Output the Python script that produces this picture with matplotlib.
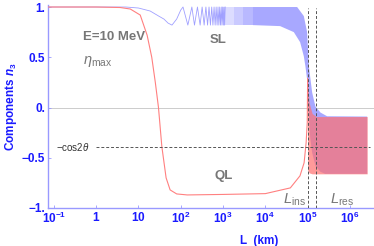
import matplotlib
matplotlib.use("Agg")
import matplotlib.pyplot as plt
import numpy as np

plt.rcParams['font.family'] = ['Liberation Sans', 'DejaVu Sans']
plt.rcParams['mathtext.fontset'] = 'custom'
plt.rcParams['mathtext.rm'] = 'Liberation Sans'
plt.rcParams['mathtext.it'] = 'Liberation Sans:italic'
plt.rcParams['mathtext.bf'] = 'Liberation Sans:bold'
plt.rcParams['mathtext.bfit'] = 'Liberation Sans:bold:italic'

# QL curve (red)
ql_L = [0.07, 1, 3.7, 6.4, 11, 16, 20.6, 25, 29.7, 35.7, 45, 56, 80, 142,
        1000, 10000, 39000, 66000, 82600, 92200, 98000, 100000]
ql_n3 = [1, 1, 0.995, 0.98, 0.92, 0.72, 0.5, 0.25, 0.0, -0.39, -0.7, -0.82,
         -0.86, -0.87, -0.865, -0.857, -0.8, -0.68, -0.55, -0.35, -0.15, 0.29]
# QL band after L_ins
qlb_L = [1.0e5, 1.08e5, 1.28e5, 1.6e5, 2.6e5, 2.56e6]
qlb_top = [0.29, 0.05, -0.06, -0.09, -0.09, -0.09]
qlb_bot = [-0.62, -0.65, -0.66, -0.66, -0.66, -0.66]

# SL curve (blue): resolved oscillations
sl_L = [0.07, 1, 5, 10, 18.9, 30, 40, 50, 62, 80, 100, 113,
        147, 183, 211, 248, 287, 320, 357, 393, 430, 466, 503, 540,
        576, 613, 650, 686, 723, 760, 796, 833, 869, 906, 942, 979,
        1015, 1052, 1088, 1125]
sl_n3 = [1, 1, 1, 0.99, 0.96, 0.91, 0.88, 0.84, 0.82, 0.88, 0.97, 1.0,
         0.82, 1.0, 0.82, 1.0, 0.82, 1.0, 0.82, 1.0, 0.82, 1.0, 0.82, 1.0,
         0.82, 1.0, 0.82, 1.0, 0.82, 1.0, 0.82, 1.0, 0.82, 1.0, 0.82, 1.0,
         0.82, 1.0, 0.82, 1.0]
# SL band envelope (fast oscillations)
fade_L = [1000, 1800, 3000, 5100]
fade_alpha = [0.4, 0.6, 0.8]
slu_L = [5100, 56500, 81300, 97300, 1.07e5, 1.28e5, 1.53e5, 2.01e5, 2.89e5, 2.56e6]
slu_n3 = [1.0, 1.0, 0.91, 0.75, 0.41, 0.15, 0.01, -0.05, -0.087, -0.09]
sll_L = [5100, 22400, 47200, 66500, 81300, 88700, 97300, 1.08e5, 1.15e5,
         1.28e5, 1.53e5, 2.01e5, 2.6e5, 2.56e6]
sll_n3 = [0.82, 0.81, 0.75, 0.65, 0.51, 0.41, 0.28, -0.1, -0.3, -0.45,
          -0.58, -0.64, -0.66, -0.66]

cos2theta = 0.393
L_ins = 1.0e5
L_res = 1.6e5

blue = '#1a1aff'
band_blue = '#a8a8ff'
red = '#ff8080'
gray = '#777777'

fig = plt.figure(figsize=(3.74, 2.46), dpi=100)
ax = fig.add_axes([48 / 374, 38 / 246, 326 / 374, 203 / 246])
ax.set_xscale('log')
ax.set_xlim(10 ** -1.14, 10 ** 6.57)
ax.set_ylim(-1, 1.02)

ax.axhline(0, color='#cccccc', lw=0.7, zorder=1)

# SL
ax.plot(sl_L, sl_n3, color='#a0a0ff', lw=0.6, zorder=2)
for i in range(len(fade_alpha)):
    ax.fill_between([fade_L[i], fade_L[i + 1]], [0.82, 0.82], [1.0, 1.0],
                    color=band_blue, alpha=fade_alpha[i], lw=0, zorder=2)
ax.fill(np.concatenate([slu_L, sll_L[::-1]]),
        np.concatenate([slu_n3, sll_n3[::-1]]),
        color=band_blue, lw=0, zorder=2)

# QL
ax.plot(ql_L, ql_n3, color=red, lw=0.8, zorder=3)
ax.fill_between(qlb_L, qlb_bot, qlb_top, color='#ff7070', alpha=0.7, lw=0,
                zorder=3)

# reference lines
ax.plot([1, 3e6], [-cos2theta, -cos2theta], color='#555555', lw=0.7,
        ls=(0, (3, 2)), zorder=4)
ax.vlines([L_ins, L_res], -1, 0.99, color='#555555', lw=0.7,
          linestyles=[(0, (3, 2))], zorder=4)

ax.text(0.113, -cos2theta, r'$-$cos2$\theta$', fontsize=7, color='#333333',
        ha='left', va='center')
ax.text(0.49, 0.70, 'E=10 MeV', fontsize=9.5, fontweight='bold', color=gray,
        ha='left', va='center')
ax.text(0.49, 0.46, r'$\eta_{\mathrm{max}}$', fontsize=10.5, color=gray,
        ha='left', va='center')
ax.text(766, 0.67, 'SL', fontsize=9.5, fontweight='bold', color=gray,
        ha='center', va='center')
ax.text(1060, -0.68, 'QL', fontsize=9.5, fontweight='bold', color=gray,
        ha='center', va='center')
ax.text(0.9e5, -0.92, r'$L_{\mathrm{ins}}$', fontsize=10.5, color=gray,
        ha='right', va='center')
ax.text(3.3e5, -0.92, r'$L_{\mathrm{res}}$', fontsize=10.5, color=gray,
        ha='left', va='center')

for s in ['top', 'right']:
    ax.spines[s].set_visible(False)
for s in ['left', 'bottom']:
    ax.spines[s].set_color('#9999ff')
    ax.spines[s].set_linewidth(1.0)

xt = [1e-1, 1, 10, 1e2, 1e3, 1e4, 1e5, 1e6]
xl = [r'$\mathbf{10^{-1}}$', r'$\mathbf{1}$', r'$\mathbf{10}$', r'$\mathbf{10^{2}}$',
      r'$\mathbf{10^{3}}$', r'$\mathbf{10^{4}}$', r'$\mathbf{10^{5}}$', r'$\mathbf{10^{6}}$']
ax.set_xticks(xt)
ax.set_xticklabels(xl)
ax.xaxis.set_minor_locator(matplotlib.ticker.NullLocator())
yt = [-1, -0.5, 0, 0.5, 1]
yl = ['\u22121.', '\u22120.5', '0.', '0.5', '1.']
ax.set_yticks(yt)
ax.set_yticklabels(yl)
ax.tick_params(direction='in', length=2, width=0.6, color='#9999ff',
               labelcolor=blue, labelsize=8.5, pad=2)
for lab in ax.get_yticklabels():
    lab.set_fontweight('bold')

ax.set_ylabel(r'Components $\mathbfit{n}_\mathbf{3}$', color=blue, fontsize=8.5,
              fontweight='bold')
ax.yaxis.set_label_coords(-0.089, 0.5)
ax.set_xlabel('L  (km)', color=blue, fontsize=8.5, fontweight='bold')
ax.xaxis.set_label_coords(0.647, -0.135)

fig.savefig('out.png', dpi=100)
